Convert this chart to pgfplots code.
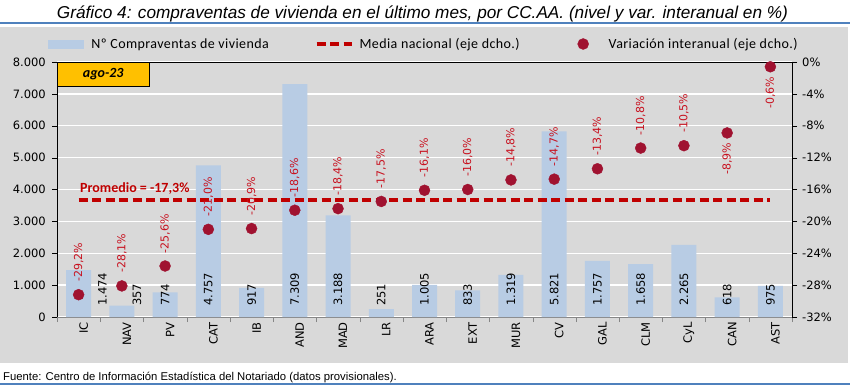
\documentclass[border=0pt]{standalone}
\usepackage{fontspec}
\usepackage{pgfplots}
\pgfplotsset{compat=1.18}
\setmainfont{DejaVu Sans}
\newfontfamily\calib{Carlito}
\newfontfamily\calibsp[LetterSpace=3]{Carlito}
\newfontfamily\arialf{Liberation Sans}
\definecolor{panelgrey}{RGB}{217,217,217}
\definecolor{barblue}{RGB}{184,204,228}
\definecolor{dotred}{RGB}{160,18,48}
\definecolor{labred}{RGB}{200,16,30}
\definecolor{linered}{RGB}{192,0,0}
\definecolor{lineblue}{RGB}{79,129,189}
\definecolor{gold}{RGB}{255,192,0}
\definecolor{axisgrey}{RGB}{134,134,134}
\newcommand\tickf{\fontsize{11.5bp}{13bp}\selectfont}
\newcommand\pctf{\fontsize{11bp}{13bp}\selectfont}
\begin{document}
\begin{tikzpicture}[x=1bp,y=1bp]
\useasboundingbox (0,0) rectangle (850,386);
\fill[panelgrey] (0,23) rectangle (848,359);
\draw[lineblue, line width=2bp] (0,363) -- (850,363);
\draw[lineblue, line width=1.2bp] (0,2) -- (850,2);
\node[anchor=base, inner sep=0pt, font=\arialf\itshape\fontsize{17.2bp}{20bp}\selectfont] at (422.5,368) {Gráfico 4: compraventas de vivienda en el último mes, por CC.AA. (nivel y var. interanual en \%)};
\node[anchor=base west, inner sep=0pt, font=\arialf\fontsize{11.3bp}{13bp}\selectfont] at (3,6) {Fuente: Centro de Información Estadística del Notariado (datos provisionales).};

\begin{axis}[
  at={(57bp,69bp)}, anchor=south west,
  width=735bp, height=255bp, scale only axis,
  xmin=-0.5, xmax=16.5, ymin=0, ymax=8000,
  axis lines*=left,
  x axis line style={draw=axisgrey},
  y axis line style={draw=black},
  xtick={0,...,16},
  xticklabels={IC,NAV,PV,CAT,IB,AND,MAD,LR,ARA,EXT,MUR,CV,GAL,CLM,CyL,CAN,AST},
  major x tick style={draw=none},
  minor xtick={-0.5,0.5,...,16.5},
  minor x tick style={draw=axisgrey},
  minor tick length=5bp,
  major tick length=5bp,
  tick align=outside,
  ytick={0,1000,...,8000},
  yticklabels={0,1.000,2.000,3.000,4.000,5.000,6.000,7.000,8.000},
  ytick style={draw=black},
  ymajorgrids, grid style={white, line width=1.3bp},
  xticklabel style={rotate=90, anchor=east, inner sep=0pt, yshift=-5bp, font=\tickf},
  yticklabel style={anchor=east, inner sep=0pt, xshift=-6bp, font=\tickf},
  clip=false,
]
\addplot[ybar, bar width=25bp, bar shift=0pt, fill=barblue, draw=none] coordinates {
(0,1474) (1,357) (2,774) (3,4757) (4,917) (5,7309) (6,3188) (7,251) (8,1005)
(9,833) (10,1319) (11,5821) (12,1757) (13,1658) (14,2265) (15,618) (16,975)};
\addplot[draw=none, nodes near coords, point meta=explicit symbolic,
  nodes near coords style={rotate=90, anchor=west, inner sep=0pt, font=\tickf, text=black}] coordinates {
(0.55,345) [1.474] (1.35,345) [357] (2,345) [774] (3,345) [4.757] (4,345) [917]
(5,345) [7.309] (6,345) [3.188] (7,345) [251] (8,345) [1.005] (9,345) [833]
(10,345) [1.319] (11,345) [5.821] (12,345) [1.757] (13,345) [1.658] (14,345) [2.265]
(15,345) [618] (16,345) [975]};
\end{axis}

\begin{axis}[
  at={(57bp,69bp)}, anchor=south west,
  width=735bp, height=255bp, scale only axis,
  xmin=-0.5, xmax=16.5, ymin=-32, ymax=0,
  axis y line*=right, axis x line*=top,
  axis line style={draw=black},
  xtick=\empty,
  ytick={-32,-28,...,0},
  yticklabels={-32\%,-28\%,-24\%,-20\%,-16\%,-12\%,-8\%,-4\%,0\%},
  ytick style={draw=black},
  tick align=outside, major tick length=5bp,
  yticklabel style={anchor=west, inner sep=0pt, xshift=5bp, font=\tickf},
  clip=false,
  legend columns=3,
  legend style={at={(axis description cs:-0.0122,1.0706)}, anchor=west,
    draw=none, fill=none, inner sep=0pt,
    font=\calibsp\fontsize{14bp}{16bp}\selectfont,
    /tikz/every even column/.append style={column sep=44bp}},
  legend cell align=left,
]
\addlegendimage{legend image code/.code={\path[draw=none,fill=none] (0bp,0bp) -- (41bp,0bp);\fill[barblue] (0bp,-4bp) rectangle (35bp,4bp);}}
\addlegendentry{Nº Compraventas de vivienda}
\addplot[linered, line width=3.5bp, dash pattern=on 9bp off 4.5bp,
  legend image code/.code={\path[draw=none,fill=none] (0bp,0bp) -- (41bp,0bp);\draw (0bp,0bp) -- (35bp,0bp);}] coordinates {(0,-17.3) (16,-17.3)};
\addlegendentry{Media nacional (eje dcho.)}
\addplot[only marks, mark=*, mark size=5.5bp, color=dotred,
  legend image code/.code={\path[draw=none,fill=none] (0bp,0bp) -- (41bp,0bp);\fill[dotred] (17.5bp,0bp) circle (5.5bp);}] coordinates {
(0,-29.2) (1,-28.1) (2,-25.6) (3,-21.0) (4,-20.9) (5,-18.6) (6,-18.4) (7,-17.5)
(8,-16.1) (9,-16.0) (10,-14.8) (11,-14.7) (12,-13.4) (13,-10.8) (14,-10.5)
(15,-8.9) (16,-0.6)};
\addlegendentry{Variación interanual (eje dcho.)}
\addplot[forget plot, draw=none, nodes near coords, point meta=explicit symbolic,
  nodes near coords style={rotate=90, anchor=west, inner sep=0pt, outer xsep=13bp, font=\pctf, text=labred}] coordinates {
(0,-29.2) [-29,2\%] (1,-28.1) [-28,1\%] (2,-25.6) [-25,6\%] (3,-21.0) [-21,0\%]
(4,-20.9) [-20,9\%] (5,-18.6) [-18,6\%] (6,-18.4) [-18,4\%] (7,-17.5) [-17,5\%]
(8,-16.1) [-16,1\%] (9,-16.0) [-16,0\%] (10,-14.8) [-14,8\%] (11,-14.7) [-14,7\%]
(12,-13.4) [-13,4\%] (13,-10.8) [-10,8\%] (14,-10.5) [-10,5\%]};
\addplot[forget plot, draw=none, nodes near coords, point meta=explicit symbolic,
  nodes near coords style={rotate=90, anchor=east, inner sep=0pt, outer xsep=10bp, font=\pctf, text=labred}] coordinates {
(15,-8.9) [-8,9\%] (16,-0.6) [-0,6\%]};
\node[anchor=south west, inner sep=0pt, yshift=5bp, text=linered,
  font=\calib\bfseries\fontsize{14bp}{16bp}\selectfont] at (axis cs:0.03,-17.3) {Promedio = -17,3\%};
\node[draw=black, fill=gold, minimum width=92bp, minimum height=24bp, anchor=north west,
  inner sep=0pt, font=\calib\bfseries\itshape\fontsize{14bp}{16bp}\selectfont] at (rel axis cs:0,1) {ago-23};
\end{axis}
\end{tikzpicture}
\end{document}
